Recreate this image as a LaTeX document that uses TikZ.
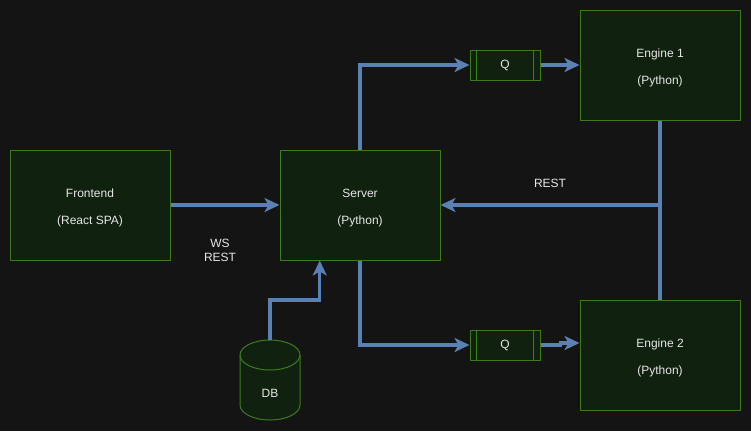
\documentclass[tikz,border=0pt]{standalone}
\usepackage{fontspec}
\setmainfont{Liberation Sans}
\usetikzlibrary{arrows.meta,calc}
\definecolor{bg}{HTML}{141414}
\definecolor{boxfill}{HTML}{10220F}
\definecolor{boxline}{HTML}{3D7A1E}
\definecolor{edge}{HTML}{5B80B3}
\definecolor{txt}{HTML}{E6E6E6}
\newcommand{\toplinestrut}{\rule{0pt}{14pt}}
\tikzset{
  box/.style={draw=boxline, fill=boxfill, line width=1pt, minimum width=160pt, minimum height=110pt, inner sep=0pt, text=txt, align=center, font=\fontsize{12}{14}\selectfont},
  qbox/.style={draw=boxline, fill=boxfill, line width=1pt, minimum width=70pt, minimum height=30pt, inner sep=0pt, text=txt, font=\fontsize{12}{14}\selectfont},
  conn/.style={draw=edge, line width=3.2pt, -{Stealth[length=15pt,width=14pt,inset=4pt]}},
  plain/.style={draw=edge, line width=3.2pt},
  lbl/.style={text=txt, align=center, font=\fontsize{12}{14}\selectfont, inner sep=0pt},
}
\begin{document}
\begin{tikzpicture}[x=1pt,y=-1pt]
\fill[bg] (0,0) rectangle (751,431);
\useasboundingbox (0,0) rectangle (751,431);
\node[box] (fe) at (90,205) {\toplinestrut Frontend\\[13pt](React SPA)};
\node[box] (srv) at (360,205) {\toplinestrut Server\\[13pt](Python)};
\node[box] (e1) at (660,65) {\toplinestrut Engine 1\\[13pt](Python)};
\node[box] (e2) at (660,355) {\toplinestrut Engine 2\\[13pt](Python)};
\node[qbox] (q1) at (505,65) {Q};
\node[qbox] (q2) at (505,345) {Q};
\draw[boxline, line width=1pt] ($(q1.north west)+(7,0)$) -- ($(q1.south west)+(7,0)$)
  ($(q1.north east)+(-7,0)$) -- ($(q1.south east)+(-7,0)$)
  ($(q2.north west)+(7,0)$) -- ($(q2.south west)+(7,0)$)
  ($(q2.north east)+(-7,0)$) -- ($(q2.south east)+(-7,0)$);
% DB cylinder
\filldraw[draw=boxline, fill=boxfill, line width=1pt]
  (240,355) -- (240,405) arc[start angle=180, end angle=360, x radius=30, y radius=-15]
  -- (300,355) arc[start angle=0, end angle=180, x radius=30, y radius=-15] -- cycle;
\draw[boxline, line width=1pt] (240,355) arc[start angle=180, end angle=360, x radius=30, y radius=-15];
\node[lbl] (db) at (270,393) {DB};
\coordinate (dbtop) at (270,340);
% connectors
\draw[conn] (fe.east) -- (srv.west);
\draw[conn] (srv.north) |- (q1.west);
\draw[conn] (q1.east) -- (e1.west |- q1.east);
\draw[conn] (srv.south) |- (q2.west);
\coordinate (j2) at ($(q2.east)+(20,0)$);
\draw[conn] (q2.east) -- (j2) -- ++(0,-2) -- ($(e2.west |- j2)+(0,-2)$);
\coordinate (srvin) at ($(srv.south west)!0.25!(srv.south east)$);
\draw[conn] (dbtop) -- ++(0,-40) -| (srvin);
\draw[plain] (e1.south) -- (e2.north);
\coordinate (jn) at (e1.south |- srv.east);
\draw[conn] (jn) -- (srv.east);
\node[lbl] (ws) at (220,250) {WS\\REST};
\node[lbl] (rest) at (550,183) {REST};
\end{tikzpicture}
\end{document}
